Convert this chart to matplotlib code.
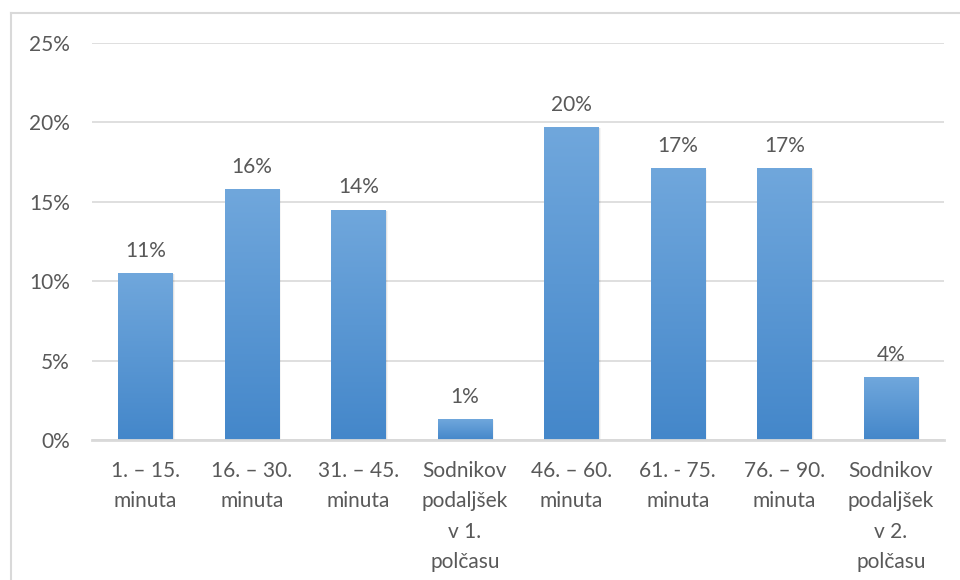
import matplotlib
matplotlib.use("Agg")
import matplotlib.pyplot as plt
import numpy as np
from matplotlib.colors import LinearSegmentedColormap
from matplotlib.lines import Line2D

categories = ["1. – 15.\nminuta", "16. – 30.\nminuta", "31. – 45.\nminuta",
              "Sodnikov\npodaljšek\nv 1.\npolčasu", "46. – 60.\nminuta",
              "61. - 75.\nminuta", "76. – 90.\nminuta",
              "Sodnikov\npodaljšek\nv 2.\npolčasu"]
values = [10.5, 15.8, 14.5, 1.3, 19.7, 17.1, 17.1, 3.95]
labels = ["11%", "16%", "14%", "1%", "20%", "17%", "17%", "4%"]
yticks = [0, 5, 10, 15, 20, 25]
yticklabels = ["0%", "5%", "10%", "15%", "20%", "25%"]

plt.rcParams['font.family'] = ['Lato', 'DejaVu Sans']
txt = '#595959'
fs = 15

fig = plt.figure(figsize=(9.6, 5.8), dpi=100)
ax = fig.add_axes([92/960, 1-440/580, (944-92)/960, (440-43)/580])

x = np.arange(len(values))
width = 0.51
cmap = LinearSegmentedColormap.from_list('g', ['#4487CA', '#70A7DC'])
grad = np.linspace(0, 1, 256).reshape(-1, 1)

for xi, v in zip(x, values):
    # soft shadow
    for k, a in enumerate([0.10, 0.07, 0.04]):
        off = 0.012 * (k + 1)
        sh = plt.Rectangle((xi - width/2 + off*0.6, 0), width, v - off*2, facecolor='#000000',
                           alpha=a, edgecolor='none', zorder=2)
        ax.add_patch(sh)
    rect = plt.Rectangle((xi - width/2, 0), width, v, facecolor='none', edgecolor='none', zorder=3)
    ax.add_patch(rect)
    im = ax.imshow(grad, cmap=cmap, aspect='auto', origin='lower',
                   extent=[xi - width/2, xi + width/2, 0, v], zorder=3)
    im.set_clip_path(rect)

for xi, v, lab in zip(x, values, labels):
    ax.annotate(lab, (xi, v), xytext=(0, 9), textcoords='offset points',
                ha='center', va='bottom', fontsize=fs, color=txt)

ax.set_xlim(-0.5, len(values) - 0.5)
ax.set_ylim(0, 25)
ax.set_yticks(yticks)
ax.set_yticklabels(yticklabels, fontsize=fs, color=txt)
ax.set_xticks(x)
ax.set_xticklabels(categories, fontsize=fs, color=txt, linespacing=1.65)
ax.tick_params(axis='both', length=0)
ax.tick_params(axis='y', pad=16)
ax.tick_params(axis='x', pad=15)
ax.yaxis.grid(True, color='#D9D9D9', linewidth=1.2, zorder=0)
ax.set_axisbelow(True)
for s in ['top', 'right', 'left']:
    ax.spines[s].set_visible(False)
ax.spines['bottom'].set_color('#D9D9D9')
ax.spines['bottom'].set_linewidth(2)
ax.spines['bottom'].set_zorder(4)

# outer chart frame
fig.add_artist(Line2D([10.5/960, 10.5/960], [0, 1-13/580], transform=fig.transFigure,
                      color='#D9D9D9', linewidth=1.5))
fig.add_artist(Line2D([10.5/960, 1], [1-13/580, 1-13/580], transform=fig.transFigure,
                      color='#D9D9D9', linewidth=1.5))

fig.savefig("out.png", dpi=100, facecolor='white')
